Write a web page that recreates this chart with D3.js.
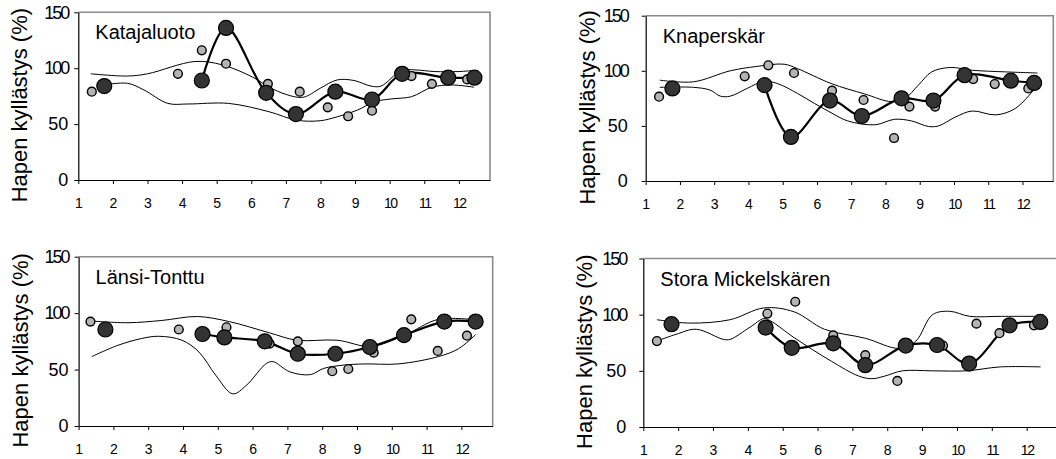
<!DOCTYPE html>
<html>
<head>
<meta charset="utf-8">
<script src="https://cdn.jsdelivr.net/npm/d3@7/dist/d3.min.js"></script>
<style>
  html, body { margin: 0; padding: 0; background: #fff; }
  svg { display: block; }
  text { font-family: "Liberation Sans", Arial, sans-serif; fill: #000; }
</style>
</head>
<body>
<svg id="chart" width="1056" height="459"></svg>
<script>
// ---- axis ticks / labels ----
const monthTicks = [1, 2, 3, 4, 5, 6, 7, 8, 9, 10, 11, 12];
const yTicks = [0, 50, 100, 150];
const yTitle = "Hapen kyllästys (%)";
const stationNames = ["Katajaluoto", "Knaperskär", "Länsi-Tonttu", "Stora Mickelskären"];

// ---- data: [month position, saturation %] ----
// dark points (connected, current year); null = missing
const katajaluotoDark = [[1.75,84],[3,null],[4.57,89],[5.27,136],[6.43,78],[7.29,59],[8.43,79],[9.49,72],[10.36,95],[11.69,91.5],[12.45,91.5]];
const katajaluotoLight = [[1.39,79],[3.88,95],[4.57,116],[5.27,104],[6.48,86],[7.40,79],[8.21,65],[8.80,57],[9.49,62],[10.63,93],[11.22,86],[12.24,90]];
const katajaluotoUpper = [[1.36,95],[2.42,93],[3.0,95],[4.37,106],[5.16,103],[6.04,92],[6.52,83],[7.01,76.5],[7.5,74],[7.99,82],[8.48,89.5],[8.97,89],[9.46,84],[9.75,84],[10.34,98],[10.73,98.5],[11.3,97],[12.0,97],[12.44,98]];
const katajaluotoLower = [[1.73,85],[2.42,86.5],[2.9,80.5],[3.59,68.5],[4.18,68],[5.35,68.5],[6.52,61],[7.31,53.5],[7.99,53],[8.48,56.5],[9.07,62.5],[9.56,70],[10.04,72.5],[10.63,74.5],[11.22,83],[11.8,85],[12.44,83]];

const knaperskarDark = [[1.78,84],[3,null],[4.47,87],[5.24,40],[6.38,73],[7.31,59],[8.47,75],[9.4,73],[10.31,96],[11.66,91],[12.34,89]];
const knaperskarLight = [[1.39,76.5],[3.89,95],[4.58,105],[5.33,98],[6.44,82],[7.36,73.5],[8.25,39],[8.7,67.5],[9.45,67.5],[10.56,92.5],[11.19,88],[12.17,84]];
const knaperskarUpper = [[1.41,91.5],[2.39,90],[3.47,100],[4.25,104],[5.04,106],[5.43,102],[6.41,88.5],[7.39,79],[8.18,72],[8.57,75],[8.96,87],[9.35,99],[9.89,103],[10.53,100.5],[11.51,99],[12.44,98]];
const knaperskarLower = [[1.41,85],[2.39,85],[2.88,82.5],[3.18,77],[3.47,77],[3.96,84],[4.45,90.5],[4.84,88.5],[5.43,79.5],[5.92,70.5],[6.41,62],[6.9,54.5],[7.69,51],[8.27,56],[8.76,54.5],[9.25,49.5],[9.55,50],[10.04,58],[10.53,63.5],[11.22,60],[11.8,66],[12.39,85]];

const lansiDark = [[1.77,85.5],[3,null],[4.56,81.5],[5.19,78.5],[6.35,75],[7.3,64],[8.38,64],[9.37,70],[10.35,80.5],[11.51,92.5],[12.41,92.5]];
const lansiLight = [[1.34,92.5],[3.88,85.5],[5.25,87.5],[6.49,73],[7.3,75],[8.29,48.5],[8.75,50.5],[9.48,65],[10.56,94.5],[11.32,66.5],[12.16,80]];
const lansiUpper = [[1.38,93],[2.42,91.5],[3.39,93.5],[4.41,97],[5.33,92.5],[6.49,82.5],[7.27,76],[8.43,76],[9.4,70.5],[10.37,80.5],[11.34,94.5],[12.41,94]];
const lansiLower = [[1.38,61.5],[2.13,71.5],[2.81,77.5],[3.3,79.5],[3.97,76],[4.46,65.5],[4.94,45],[5.43,28.5],[5.82,36],[6.4,55.5],[6.59,57],[7.07,48],[7.66,45.5],[8.04,51],[8.63,54],[9.21,55],[10.18,55],[11.34,61.5],[11.92,68.5],[12.41,81]];

const storaDark = [[1.81,91.5],[3,null],[4.51,88.5],[5.26,70.5],[6.45,74.5],[7.37,55],[8.53,72.5],[9.43,73],[10.35,56.5],[11.51,90.5],[12.39,93.5]];
const storaLight = [[1.39,76.5],[4.56,101],[5.36,111.5],[6.45,81.5],[7.37,64],[8.29,41],[9.6,72.5],[10.56,92],[11.22,83.5],[12.21,90.5]];
const storaUpper = [[1.39,95.5],[2.33,92.5],[3.49,95.5],[4.46,106],[5.33,102.5],[6.2,87],[7.37,79],[8.34,70],[8.82,76.5],[9.3,100],[9.79,103],[10.37,98.5],[11.24,98.5],[12.4,98.5]];
const storaLower = [[1.39,76.5],[1.94,82.5],[2.52,87],[3.3,78],[3.49,78],[4.07,89],[4.46,96.5],[4.65,94.5],[5.33,79.5],[6.4,58.5],[7.17,45.5],[7.56,43],[7.95,45.5],[8.43,50],[9.3,50],[10.27,50],[11.24,53.5],[12.4,53.5]];

// ---- layout (positions/styles kept separately from data) ----
const panels = [
  { name: stationNames[0], dark: katajaluotoDark, light: katajaluotoLight, upper: katajaluotoUpper, lower: katajaluotoLower,
    left: 78.3, right: 490, top: 12.3, bottom: 180, yLabGap: 6 },
  { name: stationNames[1], dark: knaperskarDark, light: knaperskarLight, upper: knaperskarUpper, lower: knaperskarLower,
    left: 645.7, right: 1053.3, top: 15.7, bottom: 181, yLabGap: 14 },
  { name: stationNames[2], dark: lansiDark, light: lansiLight, upper: lansiUpper, lower: lansiLower,
    left: 78.6, right: 492.7, top: 256.7, bottom: 426, yLabGap: 6 },
  { name: stationNames[3], dark: storaDark, light: storaLight, upper: storaUpper, lower: storaLower,
    left: 643.3, right: 1058, top: 258.5, bottom: 427, yLabGap: 13 }
];

const svg = d3.select("#chart");

panels.forEach(p => {
  const x = d3.scaleLinear().domain([1, 12.9]).range([p.left, p.right]);
  const y = d3.scaleLinear().domain([0, 150]).range([p.bottom, p.top]);
  const g = svg.append("g");

  // frame: top & right in gray
  g.append("path")
    .attr("d", `M${x(1)},${y(150)}H${x(12.9)}V${y(0)}`)
    .attr("fill", "none").attr("stroke", "#8c8c8c").attr("stroke-width", 1.6);

  // y axis
  const ya = g.append("g").attr("transform", `translate(${x(1)},0)`)
    .call(d3.axisLeft(y).tickValues(yTicks).tickSize(4).tickSizeOuter(0).tickPadding(p.yLabGap));
  ya.select(".domain").attr("stroke", "#000").attr("stroke-width", 1.2);
  ya.selectAll(".tick line").attr("stroke", "#000");
  ya.selectAll(".tick text").attr("font-size", 18).attr("font-family", "Liberation Sans, Arial, sans-serif")
    .attr("letter-spacing", d => d >= 100 ? -2 : 0).attr("fill", "#000");

  // x axis
  const xa = g.append("g").attr("transform", `translate(0,${y(0)})`)
    .call(d3.axisBottom(x).tickValues(monthTicks).tickSize(4).tickSizeOuter(0).tickPadding(14));
  xa.select(".domain").attr("stroke", "#000").attr("stroke-width", 1.2);
  xa.selectAll(".tick line").attr("stroke", "#000");
  xa.selectAll(".tick text").attr("font-size", 14).attr("font-family", "Liberation Sans, Arial, sans-serif")
    .attr("letter-spacing", d => d >= 10 ? -1.5 : 0).attr("fill", "#000");

  // y title
  g.append("text")
    .attr("transform", `translate(${x(1) - 51},${(p.top + p.bottom) / 2 + 9}) rotate(-90)`)
    .attr("text-anchor", "middle").attr("font-size", 22)
    .text(yTitle);

  // station title
  g.append("text").attr("x", x(1) + 17).attr("y", p.top + 27)
    .attr("font-size", 20).text(p.name);

  const thin = d3.line().x(d => x(d[0])).y(d => y(d[1])).curve(d3.curveCatmullRom.alpha(0.5));
  [p.upper, p.lower].forEach(s => {
    g.append("path").attr("d", thin(s)).attr("fill", "none")
      .attr("stroke", "#000").attr("stroke-width", 1);
  });

  const thick = d3.line().defined(d => d[1] != null)
    .x(d => x(d[0])).y(d => y(d[1])).curve(d3.curveCatmullRom.alpha(0.5));
  g.append("path").attr("d", thick(p.dark)).attr("fill", "none")
    .attr("stroke", "#000").attr("stroke-width", 2.2);

  g.selectAll(".light").data(p.light).join("circle")
    .attr("cx", d => x(d[0])).attr("cy", d => y(d[1])).attr("r", 4.4)
    .attr("fill", "#b4b4b4").attr("stroke", "#000").attr("stroke-width", 1.4);

  g.selectAll(".dark").data(p.dark.filter(d => d[1] != null)).join("circle")
    .attr("cx", d => x(d[0])).attr("cy", d => y(d[1])).attr("r", 7.5)
    .attr("fill", "#333333").attr("stroke", "#000").attr("stroke-width", 1.2);
});
</script>
</body>
</html>
